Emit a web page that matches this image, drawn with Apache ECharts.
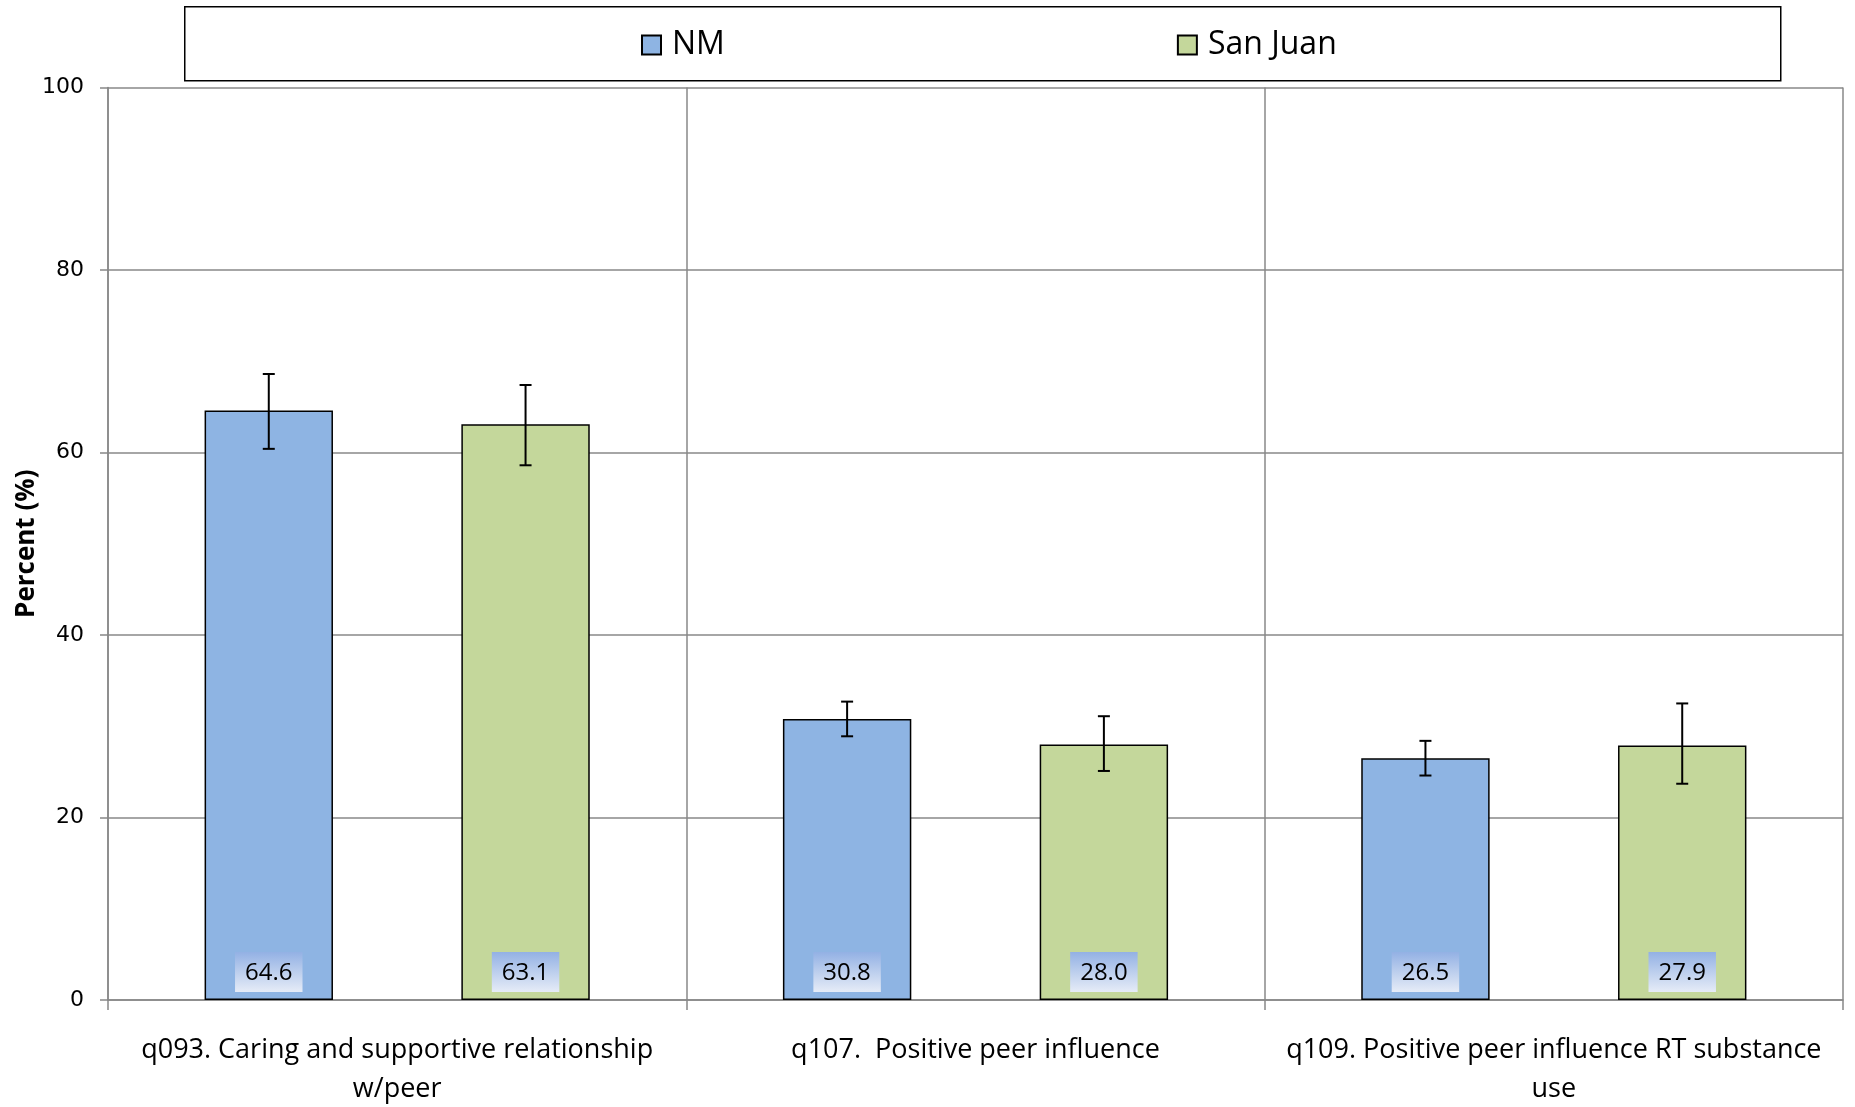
<!DOCTYPE html>
<html><head><meta charset="utf-8">
<script src="https://cdn.jsdelivr.net/npm/echarts@6/dist/echarts.min.js"></script>
<style>html,body{margin:0;padding:0;background:#fff}#c{width:1855px;height:1107px}</style>
</head><body><div id="c"></div>
<script>
const categories = ["q093. Caring and supportive relationship\nw/peer", "q107.  Positive peer influence", "q109. Positive peer influence RT substance\nuse"];
const seriesNames = ["NM", "San Juan"];
const nmValues = [64.6, 30.8, 26.5];
const nmLow = [60.4, 28.9, 24.6];
const nmHigh = [68.6, 32.7, 28.4];
const sjValues = [63.1, 28.0, 27.9];
const sjLow = [58.6, 25.1, 23.7];
const sjHigh = [67.4, 31.1, 32.5];
const yTicks = [0, 20, 40, 60, 80, 100];

const chart = echarts.init(document.getElementById('c'));
const catGap = 0.334;
const labelBg = new echarts.graphic.LinearGradient(0, 0, 0, 1, [
  {offset: 0, color: '#93B1E4'}, {offset: 1, color: '#E6ECF7'}
]);
function errSeries(low, high, sign, name) {
  return {
    type: 'custom', name: name + ' err', silent: true, z: 10,
    data: low.map((l, i) => [i, l, high[i]]),
    renderItem: function (params, api) {
      const band = api.size([1, 0])[0];
      const bw = band * (1 - catGap) / 3;
      const i = api.value(0);
      const p1 = api.coord([i, api.value(1)]);
      const p2 = api.coord([i, api.value(2)]);
      const x = p1[0] + sign * bw;
      const cap = 6;
      const st = {stroke: '#000', lineWidth: 2};
      return {type: 'group', children: [
        {type: 'line', shape: {x1: x, y1: p1[1], x2: x, y2: p2[1]}, style: st},
        {type: 'line', shape: {x1: x - cap, y1: p1[1], x2: x + cap, y2: p1[1]}, style: st},
        {type: 'line', shape: {x1: x - cap, y1: p2[1], x2: x + cap, y2: p2[1]}, style: st}
      ]};
    }
  };
}
const barLabel = {
  show: true, position: 'insideBottom', distance: 8,
  formatter: p => p.value.toFixed(1),
  fontFamily: 'Open Sans', fontSize: 24, color: '#000',
  backgroundColor: labelBg, padding: [9, 10, 7, 10]
};
chart.setOption({
  animation: false,
  textStyle: {fontFamily: 'Open Sans'},
  graphic: [{type: 'rect', left: 184, top: 6, shape: {width: 1596, height: 74},
    style: {fill: '#fff', stroke: '#000', lineWidth: 1.5}, z: 0}],
  legend: {
    data: seriesNames, top: 24, left: 636, itemGap: 452,
    itemWidth: 19, itemHeight: 19, icon: 'rect',
    textStyle: {fontFamily: 'Open Sans', fontSize: 32, color: '#000', padding: [0, 0, 0, 6]},
    z: 5
  },
  grid: {left: 108, right: 12, top: 87.5, bottom: 107, outerBoundsMode: 'none', containLabel: false},
  xAxis: {
    type: 'category', data: categories,
    axisLine: {lineStyle: {color: '#888', width: 1.5}},
    axisTick: {show: true, length: 10, interval: 0, lineStyle: {color: '#888', width: 1.5}},
    splitLine: {show: true, interval: 0, lineStyle: {color: '#888', width: 1.5}},
    axisLabel: {interval: 0, margin: 31, fontFamily: 'Open Sans', fontSize: 27, color: '#000', lineHeight: 39}
  },
  yAxis: {
    type: 'value', min: 0, max: 100, interval: 20,
    name: 'Percent (%)', nameLocation: 'middle', nameGap: 68, nameMoveOverlap: false,
    nameTextStyle: {fontFamily: 'Open Sans', fontSize: 26, fontWeight: 'bold', color: '#000'},
    axisLine: {show: true, lineStyle: {color: '#888', width: 1.5}},
    axisTick: {show: true, length: 8, lineStyle: {color: '#888', width: 1.5}},
    splitLine: {show: true, lineStyle: {color: '#888', width: 1.5}},
    axisLabel: {margin: 24, fontFamily: 'DejaVu Sans', fontSize: 22, color: '#000',
      formatter: v => yTicks.includes(v) ? String(v) : ''}
  },
  series: [
    {name: seriesNames[0], type: 'bar', data: nmValues, barGap: '100%', barCategoryGap: (catGap * 100) + '%',
     itemStyle: {color: '#8EB4E3', borderColor: '#000', borderWidth: 1.5}, label: barLabel},
    {name: seriesNames[1], type: 'bar', data: sjValues,
     itemStyle: {color: '#C4D79B', borderColor: '#000', borderWidth: 1.5}, label: barLabel},
    errSeries(nmLow, nmHigh, -1, 'NM'),
    errSeries(sjLow, sjHigh, 1, 'SJ')
  ]
});
</script></body></html>
